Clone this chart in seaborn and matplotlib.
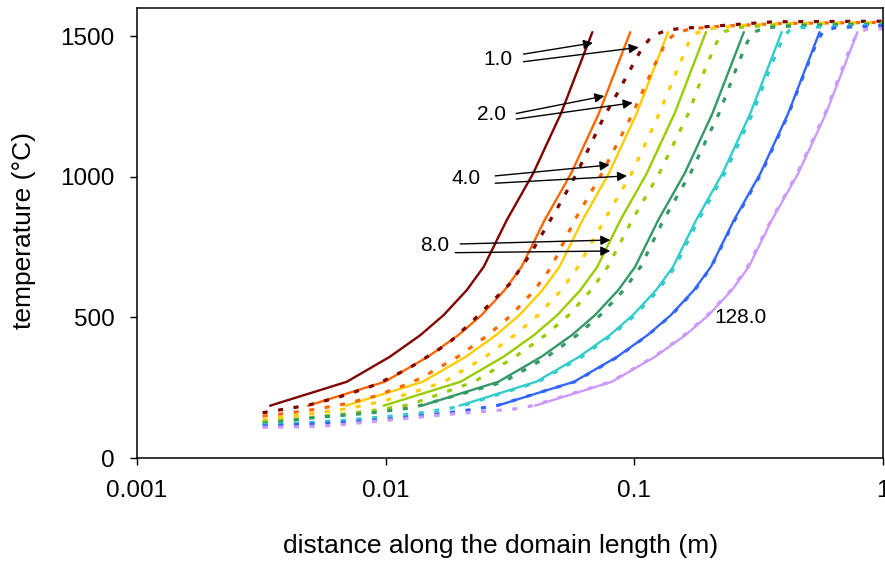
import matplotlib
matplotlib.use("Agg")
import matplotlib.pyplot as plt
from matplotlib.ticker import NullLocator, FixedLocator, FixedFormatter
import pandas as pd
import seaborn as sns

# ---- series definitions -------------------------------------------------
times = [1, 2, 4, 8, 16, 32, 64, 128]
colors = ["#800000", "#FF6600", "#FFCC00", "#99CC00",
          "#339966", "#33CCCC", "#3366FF", "#CC99FF"]

# analytical profiles (solid lines): shared temperature levels
temp_solid = [186, 271, 360, 437, 508, 597, 680, 846, 1012, 1225, 1514]
x_solid_1 = [0.00343, 0.00698, 0.0104, 0.0138, 0.0171, 0.0212, 0.0248, 0.0307, 0.0392, 0.0507, 0.0678]
x_solid_2 = [0.00487, 0.00991, 0.0148, 0.0196, 0.0243, 0.0301, 0.0352, 0.0436, 0.0557, 0.0720, 0.0963]
x_solid_4 = [0.00691, 0.0141, 0.0210, 0.0278, 0.0345, 0.0427, 0.0500, 0.0619, 0.0790, 0.1022, 0.1367]
x_solid_8 = [0.00982, 0.0200, 0.0298, 0.0395, 0.0490, 0.0607, 0.0710, 0.0879, 0.1122, 0.1452, 0.1941]
x_solid_16 = [0.01395, 0.0284, 0.0423, 0.0561, 0.0695, 0.0862, 0.1008, 0.1248, 0.1594, 0.2061, 0.2757]
x_solid_32 = [0.0198, 0.0403, 0.0600, 0.0797, 0.0987, 0.1224, 0.1432, 0.1773, 0.2263, 0.2927, 0.3915]
x_solid_64 = [0.0281, 0.0572, 0.0853, 0.1131, 0.1402, 0.1738, 0.2033, 0.2517, 0.3214, 0.4156, 0.5558]
x_solid_128 = [0.0399, 0.0812, 0.1211, 0.1606, 0.1990, 0.2468, 0.2887, 0.3573, 0.4563, 0.5901, 0.7892]

# numerical profiles (dotted lines)
x_dot_1 = [0.0032, 0.0037, 0.00426, 0.00489, 0.00646, 0.00853, 0.00965, 0.0124, 0.0179, 0.0219,
           0.0268, 0.0317, 0.0382, 0.0443, 0.0512, 0.0588, 0.0671, 0.0752, 0.0865, 0.0994,
           0.1067, 0.1178, 0.1354, 0.1556, 0.179, 0.236, 0.364, 1.0]
t_dot_1 = [161, 170, 179, 188, 216, 251, 271, 319, 408, 479,
           556, 621, 725, 822, 917, 1014, 1119, 1210, 1305, 1403,
           1453, 1501, 1521, 1528, 1531, 1539, 1551, 1553]
x_dot_2 = [0.0032, 0.00401, 0.0053, 0.0070, 0.00907, 0.0120, 0.0138, 0.0195, 0.0258, 0.0320, 0.0397,
           0.0464, 0.0576, 0.0741, 0.0985, 0.121, 0.1345, 0.146, 0.168, 0.222, 0.387, 1.0]
t_dot_2 = [149, 159, 174, 194, 220, 260, 283, 360, 437, 508, 597,
           680, 846, 1012, 1225, 1400, 1480, 1510, 1526, 1535, 1545, 1549]
x_dot_4 = [0.0032, 0.00413, 0.00545, 0.0072, 0.0095, 0.01255, 0.0172, 0.0252, 0.0330, 0.0410, 0.0509,
           0.0594, 0.0758, 0.0976, 0.126, 0.152, 0.166, 0.179, 0.206, 0.267, 0.424, 1.0]
t_dot_4 = [135, 149, 161, 177, 200, 230, 271, 360, 437, 508, 597,
           680, 846, 1012, 1225, 1400, 1480, 1512, 1528, 1537, 1545, 1548]
x_dot_8 = [0.0032, 0.00453, 0.00656, 0.0095, 0.01255, 0.0227, 0.0332, 0.0439, 0.0545, 0.0670,
           0.0782, 0.0980, 0.126, 0.165, 0.196, 0.215, 0.230, 0.255, 0.353, 1.0]
t_dot_8 = [129, 140, 155, 172, 190, 271, 360, 437, 508, 597,
           680, 846, 1012, 1225, 1400, 1480, 1515, 1530, 1539, 1546]
x_dot_16 = [0.0032, 0.00405, 0.00535, 0.00707, 0.00933, 0.0123, 0.0140, 0.0299, 0.0446, 0.0589, 0.0730,
            0.0907, 0.106, 0.131, 0.168, 0.219, 0.261, 0.285, 0.304, 0.337, 0.466, 1.0]
t_dot_16 = [123, 132, 145, 153, 163, 177, 188, 271, 360, 437, 508,
            597, 680, 846, 1012, 1225, 1400, 1480, 1515, 1530, 1538, 1543]
x_dot_32 = [0.0032, 0.00453, 0.00656, 0.0095, 0.0138, 0.0197, 0.0412, 0.0615, 0.0812, 0.1007,
            0.125, 0.146, 0.181, 0.231, 0.299, 0.357, 0.390, 0.417, 0.466, 1.0]
t_dot_32 = [118, 124, 133, 145, 160, 182, 271, 360, 437, 508,
            597, 680, 846, 1012, 1225, 1400, 1480, 1518, 1530, 1540]
x_dot_64 = [0.0032, 0.00453, 0.00656, 0.0095, 0.0138, 0.0199, 0.0279, 0.0576, 0.0860, 0.1135, 0.141,
            0.175, 0.204, 0.2535, 0.324, 0.418, 0.499, 0.543, 0.576, 0.644, 1.0]
t_dot_64 = [114, 119, 126, 136, 150, 166, 186, 271, 360, 437, 508,
            597, 680, 846, 1012, 1225, 1400, 1480, 1518, 1530, 1537]
x_dot_128 = [0.0032, 0.00482, 0.00636, 0.00866, 0.0114, 0.0151, 0.0199, 0.0263, 0.0353, 0.0396,
             0.0805, 0.120, 0.159, 0.197, 0.245, 0.2855, 0.355, 0.452, 0.585, 0.697,
             0.755, 0.804, 0.858, 1.0]
t_dot_128 = [109, 111, 117, 129, 138, 149, 159, 167, 177, 188,
             271, 360, 437, 508, 597, 680, 846, 1012, 1225, 1400,
             1480, 1515, 1524, 1526]

x_ticks = [0.001, 0.01, 0.1, 1]
x_tick_labels = ["0.001", "0.01", "0.1", "1"]
y_ticks = [0, 500, 1000, 1500]
y_tick_labels = ["0", "500", "1000", "1500"]

# time labels with arrow targets (solid / dotted profile)
label_texts = ["1.0", "2.0", "4.0", "8.0"]
label_pos = [(0.02823, 1417), (0.02658, 1223), (0.02109, 995), (0.01582, 755)]
arrow_tail_a = [(0.03584, 1436), (0.03351, 1225), (0.02758, 1003), (0.01995, 761)]
arrow_tip_a = [(0.06821, 1476), (0.07573, 1287), (0.0795, 1042), (0.08004, 775)]
arrow_tail_b = [(0.03584, 1409), (0.03351, 1205), (0.02758, 977), (0.01905, 730)]
arrow_tip_b = [(0.1041, 1460), (0.09845, 1263), (0.09346, 1003), (0.08004, 736)]
last_label = "128.0"
last_label_pos = (0.2683, 499)

# ---- long-form tables ----------------------------------------------------
solid_x = [x_solid_1, x_solid_2, x_solid_4, x_solid_8,
           x_solid_16, x_solid_32, x_solid_64, x_solid_128]
dot_x = [x_dot_1, x_dot_2, x_dot_4, x_dot_8, x_dot_16, x_dot_32, x_dot_64, x_dot_128]
dot_t = [t_dot_1, t_dot_2, t_dot_4, t_dot_8, t_dot_16, t_dot_32, t_dot_64, t_dot_128]

rows_s = []
for tm, xs in zip(times, solid_x):
    for xv, tv in zip(xs, temp_solid):
        rows_s.append({"dist": xv, "temp": tv, "time": tm, "model": "analytical"})
df_solid = pd.DataFrame(rows_s)

rows_d = []
for tm, xs, ts in zip(times, dot_x, dot_t):
    for xv, tv in zip(xs, ts):
        rows_d.append({"dist": xv, "temp": tv, "time": tm, "model": "numerical"})
df_dot = pd.DataFrame(rows_d)

# ---- figure --------------------------------------------------------------
sns.set_theme(style="white")
plt.rcParams["font.family"] = ["Liberation Sans", "DejaVu Sans"]
plt.rcParams["text.color"] = "black"
plt.rcParams["axes.labelcolor"] = "black"
plt.rcParams["xtick.color"] = "black"
plt.rcParams["ytick.color"] = "black"

fig = plt.figure(figsize=(8.85, 5.63), dpi=100)
ax = fig.add_axes([0.1548, 0.1865, 0.8429, 0.7993])

palette = dict(zip(times, colors))
sns.lineplot(data=df_solid, x="dist", y="temp", hue="time", palette=palette,
             hue_order=times, linewidth=1.7, estimator=None, sort=False,
             legend=False, ax=ax)
sns.lineplot(data=df_dot, x="dist", y="temp", hue="time", palette=palette,
             hue_order=times, style="model", dashes={"numerical": (1.6, 3.3)},
             linewidth=2.3, estimator=None, sort=False, legend=False, ax=ax)

ax.set_xscale("log")
ax.set_xlim(0.001, 1)
ax.set_ylim(0, 1600)
ax.xaxis.set_major_locator(FixedLocator(x_ticks))
ax.xaxis.set_major_formatter(FixedFormatter(x_tick_labels))
ax.xaxis.set_minor_locator(NullLocator())
ax.yaxis.set_major_locator(FixedLocator(y_ticks))
ax.yaxis.set_major_formatter(FixedFormatter(y_tick_labels))

ax.tick_params(axis="both", direction="out", length=5, width=1.0,
               colors="black", labelcolor="black", labelsize=17.5, pad=11,
               bottom=True, left=True)
for sp in ax.spines.values():
    sp.set_visible(True)
    sp.set_color("black")
    sp.set_linewidth(1.1)

ax.set_xlabel("distance along the domain length (m)", fontsize=19, color="black")
ax.set_ylabel("temperature (°C)", fontsize=19, color="black")
ax.xaxis.set_label_coords(0.487, -0.168)
ax.yaxis.set_label_coords(-0.135, 0.505)

for txt, pos, ta, pa, tb, pb in zip(label_texts, label_pos, arrow_tail_a,
                                     arrow_tip_a, arrow_tail_b, arrow_tip_b):
    ax.text(pos[0], pos[1], txt, fontsize=15, ha="center", va="center", color="black")
    for tail, tip in ((ta, pa), (tb, pb)):
        ax.annotate("", xy=tip, xytext=tail, xycoords="data", textcoords="data",
                    arrowprops=dict(arrowstyle="-|>", color="black", lw=1.0,
                                    mutation_scale=14, shrinkA=0, shrinkB=0))
ax.text(last_label_pos[0], last_label_pos[1], last_label, fontsize=15,
        ha="center", va="center", color="black")

fig.savefig("out.png", dpi=100)
